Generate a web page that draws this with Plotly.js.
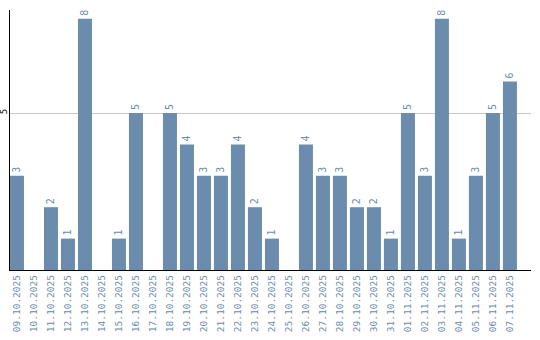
<!DOCTYPE html>
<html>
<head>
<meta charset="utf-8">
<script src="https://cdn.plot.ly/plotly-3.0.1.min.js"></script>
<style>html,body{margin:0;padding:0;background:#fff;}#chart{width:540px;height:340px;}</style>
</head>
<body>
<div id="chart"></div>
<script>
const dates = ["09.10.2025","10.10.2025","11.10.2025","12.10.2025","13.10.2025","14.10.2025","15.10.2025","16.10.2025","17.10.2025","18.10.2025","19.10.2025","20.10.2025","21.10.2025","22.10.2025","23.10.2025","24.10.2025","25.10.2025","26.10.2025","27.10.2025","28.10.2025","29.10.2025","30.10.2025","31.10.2025","01.11.2025","02.11.2025","03.11.2025","04.11.2025","05.11.2025","06.11.2025","07.11.2025"];
const counts = [3,0,2,1,8,0,1,5,0,5,4,3,3,4,2,1,0,4,3,3,2,2,1,5,3,8,1,3,5,6];
const yTicks = [5];

const barColor = "#6b8cad";
const labels = counts.map(v => v > 0 ? String(v) : "");

Plotly.newPlot("chart", [{
  type: "bar",
  x: dates,
  y: counts,
  text: labels,
  textposition: "outside",
  textangle: -90,
  cliponaxis: false,
  textfont: {family: "DejaVu Sans Mono", size: 10, color: barColor},
  marker: {color: barColor},
  hoverinfo: "none"
}], {
  width: 540, height: 340,
  margin: {l: 10, r: 9, t: 10, b: 70},
  paper_bgcolor: "#fff", plot_bgcolor: "#fff",
  bargap: 0.176,
  showlegend: false,
  xaxis: {
    type: "category",
    range: [-0.41, 30.24],
    tickangle: -90,
    tickfont: {family: "DejaVu Sans Mono", size: 9.5, color: barColor},
    showline: true, linecolor: "#000", linewidth: 1.2,
    showgrid: false, ticks: "", fixedrange: true
  },
  yaxis: {
    range: [0, 8.28],
    tickvals: yTicks,
    ticktext: yTicks.map(String),
    tickangle: -90,
    ticklabelstandoff: -2,
    automargin: false,
    tickfont: {family: "DejaVu Sans Mono", size: 9, color: "#000"},
    showline: true, linecolor: "#000", linewidth: 1.2,
    showgrid: true, gridcolor: "#c8c8c8", gridwidth: 1,
    zeroline: false, ticks: "", ticklen: 0, fixedrange: true
  }
}, {displayModeBar: false, staticPlot: true});
</script>
</body>
</html>
